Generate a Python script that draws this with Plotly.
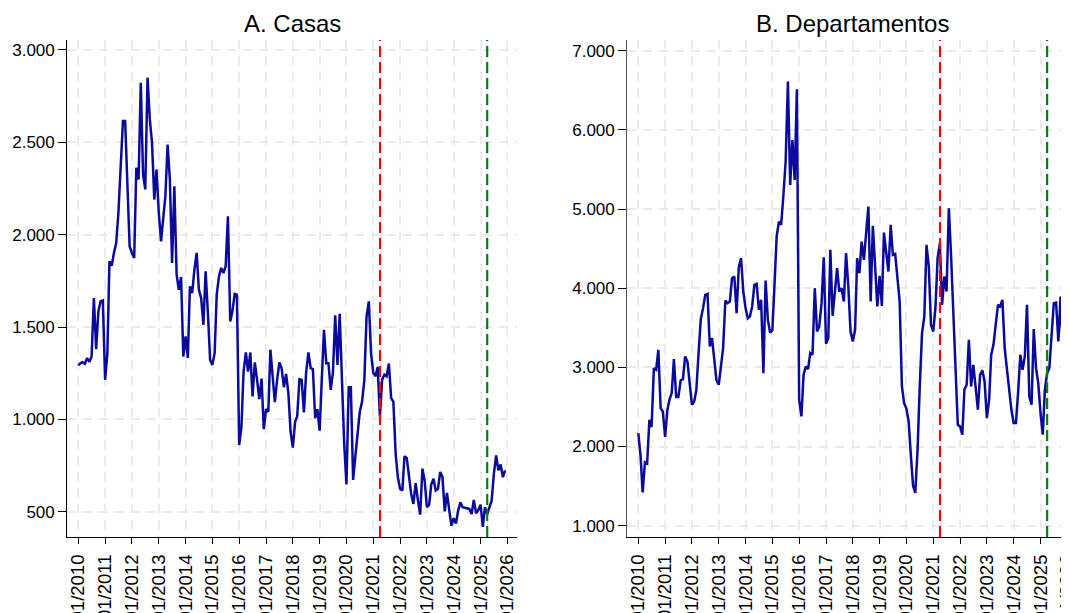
import plotly.graph_objects as go
import pandas as pd

# ---------------- data ----------------
dates = pd.date_range("2010-01-01", "2025-12-01", freq="MS").strftime("%Y-%m-%d").tolist()

casas = [
    1292, 1305, 1310, 1301, 1332, 1312, 1340, 1657, 1380, 1585, 1640, 1644,   # 2010
    1214, 1358, 1856, 1832, 1901, 1955, 2118, 2371, 2615, 2615, 2245, 1937,   # 2011
    1901, 1874, 2362, 2299, 2823, 2326, 2245, 2850, 2624, 2497, 2190, 2353,   # 2012
    2118, 1964, 2082, 2208, 2488, 2299, 1847, 2262, 1783, 1702, 1771, 1340,   # 2013
    1449, 1332, 1720, 1684, 1810, 1901, 1702, 1657, 1512, 1801, 1576, 1322,   # 2014
    1295, 1358, 1675, 1774, 1820, 1792, 1829, 2100, 1530, 1585, 1679, 1675,   # 2015
    861, 961, 1259, 1362, 1259, 1362, 1124, 1308, 1214, 1109, 1221, 947,      # 2016
    1055, 1042, 1377, 1205, 1093, 1214, 1308, 1277, 1174, 1246, 1142, 934,    # 2017
    847, 988, 1015, 1218, 1214, 1037, 1254, 1362, 1277, 1272, 1006, 1055,     # 2018
    939, 1232, 1485, 1304, 1304, 1160, 1254, 1563, 1295, 1572, 1196, 871,     # 2019
    648, 1174, 1174, 672, 798, 907, 1042, 1096, 1214, 1557, 1639, 1359,      # 2020
    1251, 1233, 1284, 1015, 1215, 1242, 1233, 1302, 1115, 1096, 815, 687,     # 2021
    624, 615, 800, 791, 687, 596, 542, 655, 560, 484, 733, 669,               # 2022
    524, 538, 647, 678, 615, 624, 715, 687, 502, 602, 509, 424,               # 2023
    465, 436, 505, 551, 524, 520, 520, 515, 487, 564, 491, 509,               # 2024
    538, 418, 524, 487, 524, 560, 705, 805, 724, 756, 687, 724,               # 2025
]

departamentos = [
    2170, 1875, 1421, 1800, 1783, 2338, 2246, 2990, 2969, 3222, 2485, 2443,   # 2010
    2120, 2464, 2591, 2675, 3104, 2624, 2624, 2835, 2851, 3138, 3074, 2759,   # 2011
    2528, 2570, 2708, 3180, 3609, 3748, 3916, 3928, 3264, 3369, 3117, 2835,   # 2012
    2780, 2990, 3243, 3844, 3811, 3832, 4126, 4147, 3684, 4265, 4379, 3958,   # 2013
    3748, 3621, 3642, 3769, 4042, 4055, 3727, 3853, 2927, 4097, 3600, 3440,   # 2014
    3470, 4080, 4660, 4841, 4800, 5180, 5600, 6609, 5304, 5872, 5367, 6512,   # 2015
    2591, 2380, 2906, 3011, 2978, 3180, 3159, 4000, 3453, 3516, 3811, 4391,   # 2016
    3297, 3369, 4484, 3651, 4000, 4252, 3958, 4000, 3832, 4442, 4021, 3453,   # 2017
    3327, 3474, 4379, 4189, 4589, 4358, 4694, 5031, 3832, 4787, 4273, 3769,   # 2018
    4156, 3777, 4702, 4442, 4210, 4799, 4421, 4433, 4105, 3832, 2759, 2549,   # 2019
    2480, 2310, 1900, 1500, 1415, 1960, 2760, 3432, 3642, 4547, 4273, 3537,   # 2020
    3453, 3769, 4379, 4568, 3790, 4147, 3958, 5010, 4400, 3684, 2969, 2275,   # 2021
    2254, 2149, 2717, 2780, 3348, 2759, 3032, 2717, 2464, 2906, 2961, 2822,   # 2022
    2359, 2591, 3159, 3285, 3579, 3790, 3769, 3853, 3243, 2990, 2675, 2464,   # 2023
    2296, 2296, 2675, 3159, 2969, 3138, 3790, 2633, 2528, 3484, 2990, 2801,   # 2024
    2422, 2149, 2717, 2927, 2990, 3432, 3811, 3819, 3327, 3895, 3222, 3167,   # 2025
]

panel_titles = ["A. Casas", "B. Departamentos"]

x_tick_vals = [f"{y}-01-01" for y in range(2010, 2027)]
x_tick_text = [f"01/{y}" for y in range(2010, 2027)]

y1_tick_vals = [500, 1000, 1500, 2000, 2500, 3000]
y1_tick_text = ["500", "1.000", "1.500", "2.000", "2.500", "3.000"]
y2_tick_vals = [1000, 2000, 3000, 4000, 5000, 6000, 7000]
y2_tick_text = ["1.000", "2.000", "3.000", "4.000", "5.000", "6.000", "7.000"]

event_dates = ["2021-04-03", "2025-04-01"]
event_colors = ["#ff0000", "#008000"]

# ---------------- figure ----------------
# page body has an 8px margin, so the figure is 8px smaller and shifted
OFF = 8
W, H = 1069 - OFF, 613 - OFF
TOP = 40 - OFF
BOTTOM = 537.3 - OFF
LINE = "#0a0a9c"
FONT = "Liberation Sans, Arial, sans-serif"

fig = go.Figure()
fig.add_trace(go.Scatter(x=dates, y=casas, mode="lines",
                         line=dict(color=LINE, width=2.5), xaxis="x", yaxis="y",
                         showlegend=False, hoverinfo="x+y"))
fig.add_trace(go.Scatter(x=dates, y=departamentos, mode="lines",
                         line=dict(color=LINE, width=2.5), xaxis="x2", yaxis="y2",
                         showlegend=False, hoverinfo="x+y"))

grid = dict(showgrid=True, gridcolor="#ebebeb", gridwidth=1.5, griddash="9px,7px",
            zeroline=False)

xcommon = dict(type="date", tickmode="array", tickvals=x_tick_vals, ticktext=x_tick_text,
               tickangle=-90, ticks="outside", ticklen=6, tickwidth=1.3, tickcolor="black",
               showline=True, linecolor="black", linewidth=1.3, automargin=False,
               ticklabeloverflow="allow", ticklabelstandoff=3,
               tickfont=dict(family=FONT, size=18.5, color="black"), **grid)

ycommon = dict(tickmode="array", ticks="outside", ticklen=8, tickwidth=1.3,
               tickcolor="black", showline=True, linewidth=1.3, automargin=False,
               tickfont=dict(family=FONT, size=17, color="black"), **grid)

fig.update_layout(
    width=W, height=H, autosize=False,
    margin=dict(l=0, r=0, t=TOP, b=H - BOTTOM, autoexpand=False),
    paper_bgcolor="white", plot_bgcolor="white",
    xaxis=dict(domain=[(67.3 - OFF) / W, (516.7 - OFF) / W], range=["2009-08-04", "2026-05-08"],
               anchor="y", **xcommon),
    xaxis2=dict(domain=[(627.3 - OFF) / W, 1.0], range=["2009-08-04", "2026-01-24"],
                anchor="y2", **xcommon),
    yaxis=dict(domain=[0, 1], range=[363, 3054], anchor="x",
               tickvals=y1_tick_vals, ticktext=y1_tick_text, linecolor="black", **ycommon),
    yaxis2=dict(domain=[0, 1], range=[857, 7135], anchor="x2",
                tickvals=y2_tick_vals, ticktext=y2_tick_text, linecolor="#555555", **ycommon),
    showlegend=False,
)

shapes = []
for xr in ["x", "x2"]:
    for d, c in zip(event_dates, event_colors):
        shapes.append(dict(type="line", xref=xr, yref=("y domain" if xr == "x" else "y2 domain"),
                           x0=d, x1=d, y0=0, y1=1,
                           line=dict(color=c, width=2.2, dash="11px,5px"), layer="above"))
fig.update_layout(shapes=shapes)

plot_h = BOTTOM - TOP
title_y = (BOTTOM - (23 - OFF)) / plot_h
fig.add_annotation(text=panel_titles[0], x=(292 - OFF) / W, y=title_y, xref="paper", yref="paper",
                   showarrow=False, xanchor="center", yanchor="middle",
                   font=dict(family=FONT, size=24, color="black"))
fig.add_annotation(text=panel_titles[1], x=(852 - OFF) / W, y=title_y, xref="paper", yref="paper",
                   showarrow=False, xanchor="center", yanchor="middle",
                   font=dict(family=FONT, size=24, color="black"))

clip_js = (
    "var d=document.getElementById('{plot_id}');"
    "d.style.overflow='hidden';"
    "document.documentElement.style.overflow='hidden';"
    "document.body.style.overflow='hidden';"
)
fig.write_html("out.html", post_script=clip_js)
